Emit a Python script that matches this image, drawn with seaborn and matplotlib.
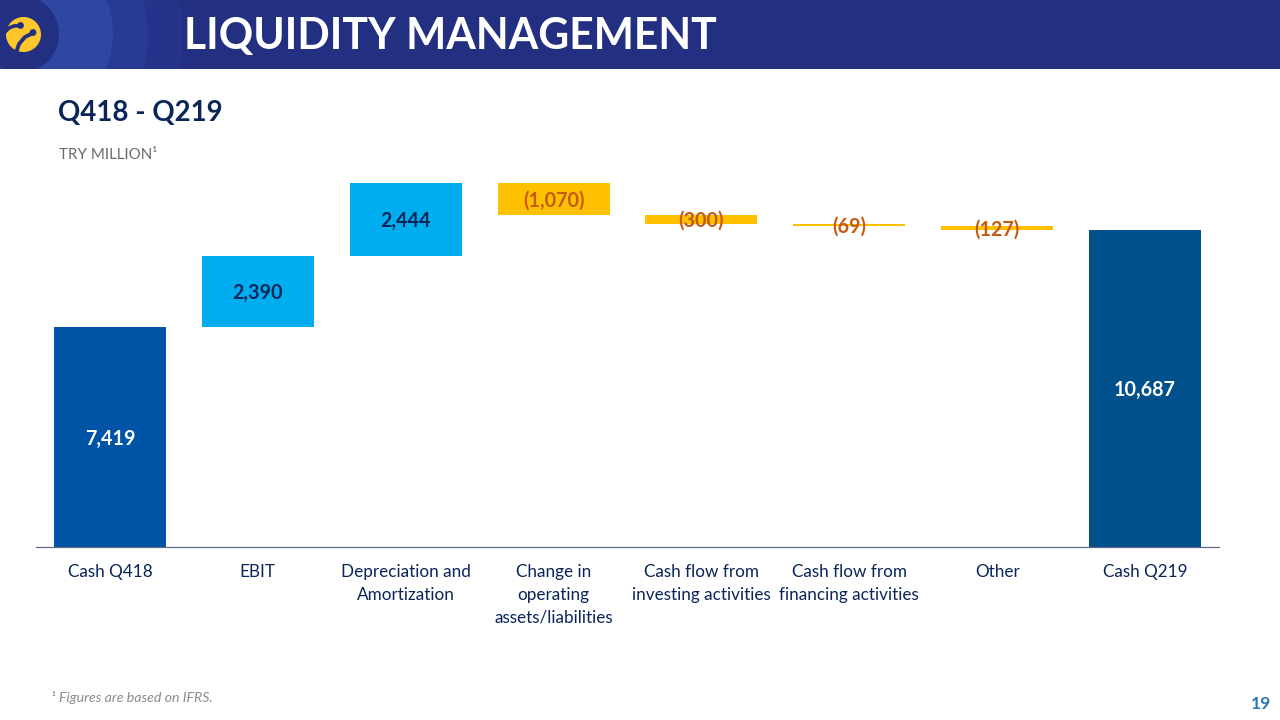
import matplotlib
matplotlib.use("Agg")
import matplotlib.pyplot as plt
from matplotlib.patches import Circle, Rectangle
import numpy as np
import pandas as pd
import seaborn as sns

categories = ["Cash Q418", "EBIT", "Depreciation and\nAmortization",
              "Change in\noperating\nassets/liabilities",
              "Cash flow from\ninvesting activities",
              "Cash flow from\nfinancing activities", "Other", "Cash Q219"]
values = [7419, 2390, 2444, -1070, -300, -69, -127, 10687]
is_total = [True, False, False, False, False, False, False, True]
bar_colors = ["#0054A6", "#00AEEF", "#00AEEF", "#FFC000", "#FFC000", "#FFC000", "#FFC000", "#00508C"]
label_colors = ["#FFFFFF", "#0B2559", "#0B2559", "#C55A11", "#C55A11", "#C55A11", "#C55A11", "#FFFFFF"]

NAVY = "#0B2559"
W, H = 1280, 720
sns.set_theme(style="white")
plt.rcParams["font.family"] = ["Lato", "DejaVu Sans"]

fig = plt.figure(figsize=(W / 100, H / 100), dpi=100, facecolor="white")

def px_axes(x0, y0, x1, y1):
    return fig.add_axes([x0 / W, 1 - y1 / H, (x1 - x0) / W, (y1 - y0) / H])

# Chart
ax = px_axes(36, 170, 1219, 547)
heights = [abs(v) for v in values]
bottoms, running = [], 0
for v, total in zip(values, is_total):
    if total:
        bottoms.append(0)
        running = v
    else:
        bottoms.append(running if v > 0 else running + v)
        running += v

df = pd.DataFrame({"category": categories, "height": heights})
sns.barplot(data=df, x="category", y="height", hue="category", palette=bar_colors,
            width=0.757, dodge=False, legend=False, saturation=1, linewidth=0, edgecolor="none", ax=ax)
bars = [b for c in ax.containers for b in c]
for bar, b, v, col in zip(bars, bottoms, values, label_colors):
    bar.set_y(b)
    txt = f"{v:,}" if v > 0 else f"({-v:,})"
    ax.annotate(txt, (bar.get_x() + bar.get_width() / 2, b + bar.get_height() / 2),
                xytext=(0, -1.2), textcoords="offset points",
                ha="center", va="center", color=col, fontsize=14.2, fontweight="bold", zorder=5)
ax.set_xlim(-0.5, 7.5)
ax.set_ylim(0, 377 / 0.0297)
ax.set_xlabel("")
ax.set_ylabel("")
ax.set_yticks([])
ax.tick_params(axis="x", length=0, pad=12.5, labelsize=12.3, labelcolor=NAVY)
for lab in ax.get_xticklabels():
    lab.set_linespacing(1.5)
for s in ["top", "left", "right"]:
    ax.spines[s].set_visible(False)
ax.spines["bottom"].set_color("#5B6B88")
ax.spines["bottom"].set_linewidth(0.9)
ax.patch.set_alpha(0)

# Header band
hdr = px_axes(0, 0, W, 69)
hdr.set_xlim(0, W)
hdr.set_ylim(69, 0)
hdr.axis("off")
hdr.add_patch(Rectangle((0, 0), W, 69, color="#232F80", lw=0))
for r, c in [(163, "#25338A"), (128, "#283A93"), (93, "#2D47A2"), (39, "#232F80")]:
    hdr.add_patch(Circle((20, 34), r, color=c, lw=0))
LOGO_BG = "#232F80"
hdr.add_patch(Circle((23.5, 34.5), 17.5, color="#FFC72C", lw=0))
hdr.plot([5, 9, 14, 20], [32, 28, 26, 25.5], color=LOGO_BG, lw=2.6, solid_capstyle="butt")
hdr.plot([16, 19, 25, 33], [53, 44, 37, 33], color=LOGO_BG, lw=2.8, solid_capstyle="butt")
hdr.add_patch(Circle((20.5, 25.5), 3.4, color=LOGO_BG, lw=0))
hdr.add_patch(Circle((33, 32.5), 3.4, color=LOGO_BG, lw=0))
hdr.text(184, 36, "LIQUIDITY MANAGEMENT", color="white", fontsize=30.7, fontweight="bold",
         ha="left", va="center")

# Slide text
fig.text(58 / W, 1 - 113 / H, "Q418 - Q219", color="#0B2559", fontsize=19.9, fontweight="bold",
         ha="left", va="center")
fig.text(59 / W, 1 - 155 / H, "TRY MILLION\u00b9", color="#6B6B6B", fontsize=10.9, ha="left", va="center")
fig.text(51 / W, 1 - 697 / H, "\u00b9 Figures are based on IFRS.", color="#8C8C8C", fontsize=10.2,
         style="italic", ha="left", va="center")
fig.text(1271 / W, 1 - 704 / H, "19", color="#2E75B6", fontsize=12.5, fontweight="bold", ha="right", va="center")

fig.savefig("out.png", dpi=100, facecolor="white")
